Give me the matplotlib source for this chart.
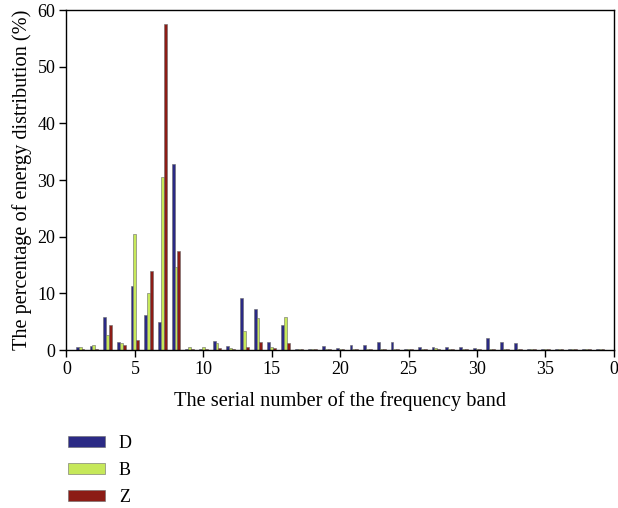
import matplotlib
matplotlib.use("Agg")
from matplotlib import pyplot as plt
import numpy as np

bands = np.arange(1, 40)
d_vals = [0.5, 0.65, 5.9, 1.5, 11.3, 6.1, 4.9, 32.8, 0.2, 0.2,
          1.6, 0.65, 9.1, 7.3, 1.35, 4.35, 0.2, 0.2, 0.65, 0.3,
          0.8, 0.8, 1.5, 1.5, 0.1, 0.45, 0.45, 0.45, 0.45, 0.3,
          2.2, 1.5, 1.2, 0.1, 0.1, 0.1, 0.1, 0.1, 0.1]
b_vals = [0.5, 0.8, 2.6, 1.2, 20.4, 10.1, 30.6, 14.6, 0.5, 0.5,
          1.2, 0.3, 3.35, 5.6, 0.5, 5.8, 0.2, 0.2, 0.2, 0.2,
          0.2, 0.2, 0.2, 0.1, 0.2, 0.2, 0.3, 0.2, 0.2, 0.2,
          0.2, 0.2, 0.2, 0.2, 0.2, 0.2, 0.2, 0.2, 0.2]
z_vals = [0.1, 0.2, 4.4, 0.8, 1.8, 13.9, 57.6, 17.5, 0.1, 0.1,
          0.3, 0.1, 0.5, 1.5, 0.3, 1.2, 0.2, 0.2, 0.2, 0.2,
          0.2, 0.2, 0.2, 0.2, 0.2, 0.2, 0.2, 0.2, 0.2, 0.2,
          0.2, 0.2, 0.2, 0.2, 0.2, 0.2, 0.2, 0.2, 0.2]
names = ["D", "B", "Z"]
clrs = ["#2b2a85", "#c6e85a", "#8c1c16"]
xtick_labels = ["0", "5", "10", "15", "20", "25", "30", "35", "0"]

plt.rcParams["font.family"] = ["Liberation Serif", "DejaVu Serif"]
plt.rcParams["font.size"] = 13

fig = plt.figure(figsize=(6.18, 5.08), dpi=100)
ax = fig.add_axes([0.1076, 0.311, 0.8856, 0.669])

w = 0.21
for k, vals in enumerate([d_vals, b_vals, z_vals]):
    ax.bar(bands + (k - 1) * w, vals, width=w, color=clrs[k],
           edgecolor="#6a6a6a", linewidth=0.4, label=names[k])

ax.set_xlim(0, 40)
ax.set_ylim(0, 60)
ax.set_xticks(range(0, 41, 5))
ax.set_xticklabels(xtick_labels)
ax.set_yticks(range(0, 61, 10))
ax.tick_params(direction="out", length=5, width=1, labelsize=13, pad=3)
for s in ax.spines.values():
    s.set_linewidth(1)
ax.set_xlabel("The serial number of the frequency band", fontsize=14.7, labelpad=9)
ax.set_ylabel("The percentage of energy distribution (%)", fontsize=14.6, labelpad=4)

h, l = ax.get_legend_handles_labels()
fig.legend(h, l, loc="upper left", bbox_to_anchor=(0.099, 0.158),
           frameon=False, handlelength=2.0, handleheight=0.6,
           labelspacing=0.55, handletextpad=0.8, borderaxespad=0)

fig.savefig("out.png", dpi=100)
